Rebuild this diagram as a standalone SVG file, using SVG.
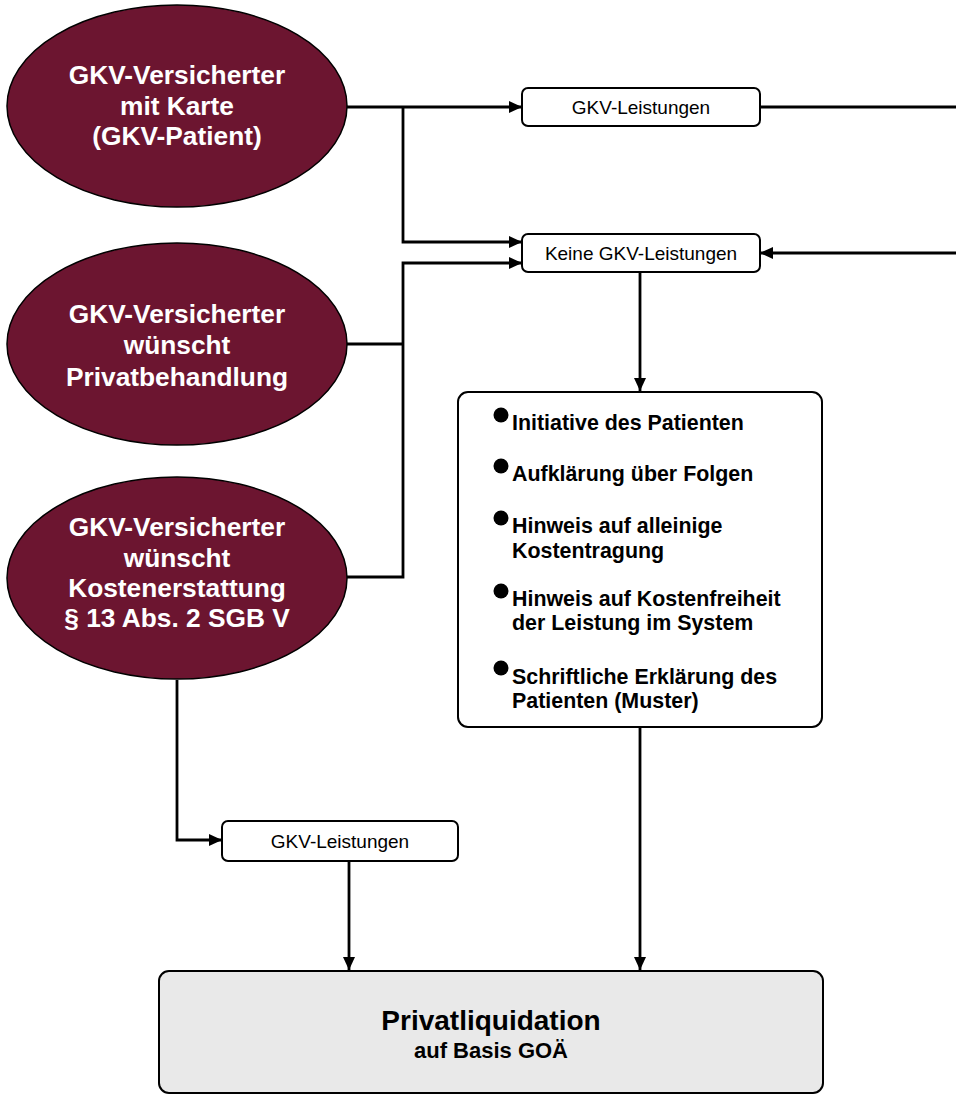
<svg xmlns="http://www.w3.org/2000/svg" width="956" height="1095" viewBox="0 0 956 1095">
<style>
.ell{fill:#6c1530;stroke:#000;stroke-width:1.5}
.et{font-family:"Liberation Sans",Arial,sans-serif;font-weight:bold;font-size:26.3px;fill:#fff;text-anchor:middle}
.box{fill:#fff;stroke:#000;stroke-width:2}
.bt{font-family:"Liberation Sans",Arial,sans-serif;font-size:19px;fill:#000;text-anchor:middle}
.lt{font-family:"Liberation Sans",Arial,sans-serif;font-weight:bold;font-size:21.4px;fill:#000}
.con{fill:none;stroke:#000;stroke-width:2.8}
</style>
<defs>
<marker id="ah" viewBox="0 0 13 12" refX="13" refY="6" markerWidth="13" markerHeight="12" markerUnits="userSpaceOnUse" orient="auto">
<path d="M0,0 L13,6 L0,12 Z" fill="#000"/>
</marker>
</defs>
<rect width="956" height="1095" fill="#fff"/>
<g id="connectors">
<path class="con" d="M347,107 H522" marker-end="url(#ah)"/>
<path class="con" d="M403,107 V242 H522" marker-end="url(#ah)"/>
<path class="con" d="M347,344 H403"/>
<path class="con" d="M347,577 H403 V263 H522" marker-end="url(#ah)"/>
<path class="con" d="M760,107 H956"/>
<path class="con" d="M956,253 H760" marker-end="url(#ah)"/>
<path class="con" d="M640,272 V391" marker-end="url(#ah)"/>
<path class="con" d="M640,727 V970" marker-end="url(#ah)"/>
<path class="con" d="M177,680 V840 H222" marker-end="url(#ah)"/>
<path class="con" d="M349,861 V970" marker-end="url(#ah)"/>
</g>
<g id="e1">
<ellipse class="ell" cx="177" cy="106" rx="170" ry="101"/>
<text class="et" x="177" y="84">GKV-Versicherter</text>
<text class="et" x="177" y="115">mit Karte</text>
<text class="et" x="177" y="145">(GKV-Patient)</text>
</g>
<g id="e2">
<ellipse class="ell" cx="177" cy="344" rx="170" ry="101"/>
<text class="et" x="177" y="323">GKV-Versicherter</text>
<text class="et" x="177" y="354">wünscht</text>
<text class="et" x="177" y="386">Privatbehandlung</text>
</g>
<g id="e3">
<ellipse class="ell" cx="177" cy="578" rx="170" ry="101"/>
<text class="et" x="177" y="536">GKV-Versicherter</text>
<text class="et" x="177" y="567">wünscht</text>
<text class="et" x="177" y="597">Kostenerstattung</text>
<text class="et" x="177" y="627">§ 13 Abs. 2 SGB V</text>
</g>
<g id="b1">
<rect class="box" x="522" y="88" width="238" height="38" rx="6"/>
<text class="bt" x="641" y="114">GKV-Leistungen</text>
</g>
<g id="b2">
<rect class="box" x="522" y="234" width="238" height="38" rx="6"/>
<text class="bt" x="641" y="260">Keine GKV-Leistungen</text>
</g>
<g id="b3">
<rect class="box" x="458" y="392" width="364" height="335" rx="10"/>
<circle cx="501" cy="415" r="7.5"/>
<text class="lt" x="512" y="430">Initiative des Patienten</text>
<circle cx="501" cy="466" r="7.5"/>
<text class="lt" x="512" y="481">Aufklärung über Folgen</text>
<circle cx="501" cy="518" r="7.5"/>
<text class="lt" x="512" y="533">Hinweis auf alleinige</text>
<text class="lt" x="512" y="558">Kostentragung</text>
<circle cx="501" cy="591" r="7.5"/>
<text class="lt" x="512" y="606">Hinweis auf Kostenfreiheit</text>
<text class="lt" x="512" y="630">der Leistung im System</text>
<circle cx="501" cy="668" r="7.5"/>
<text class="lt" x="512" y="684">Schriftliche Erklärung des</text>
<text class="lt" x="512" y="708">Patienten (Muster)</text>
</g>
<g id="b4">
<rect class="box" x="222" y="821" width="236" height="40" rx="6"/>
<text class="bt" x="340" y="848">GKV-Leistungen</text>
</g>
<g id="b5">
<rect x="159" y="971" width="664" height="122" rx="10" fill="#e9e9e9" stroke="#000" stroke-width="2"/>
<text x="491" y="1030" font-family="Liberation Sans, Arial, sans-serif" font-weight="bold" font-size="28" text-anchor="middle">Privatliquidation</text>
<text x="491" y="1058" font-family="Liberation Sans, Arial, sans-serif" font-weight="bold" font-size="22" text-anchor="middle">auf Basis GOÄ</text>
</g>
</svg>
